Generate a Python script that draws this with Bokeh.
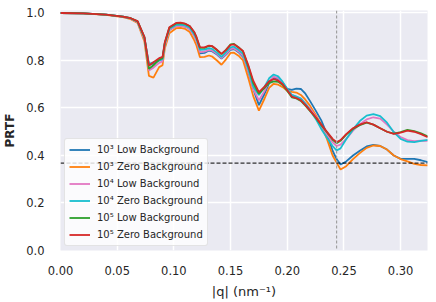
from bokeh.plotting import figure
from bokeh.models import Span, FixedTicker, PrintfTickFormatter, Legend, LegendItem
from bokeh.embed import file_html
from bokeh.resources import INLINE

q = [0.000, 0.020, 0.040, 0.055, 0.062, 0.068, 0.074, 0.078, 0.082, 0.087, 0.090, 0.092, 0.096,
     0.102, 0.106, 0.110, 0.114, 0.118, 0.120, 0.123, 0.127, 0.131, 0.134, 0.138, 0.142, 0.146,
     0.150, 0.153, 0.157, 0.161, 0.166, 0.170, 0.175, 0.180, 0.184, 0.188, 0.192, 0.196, 0.200,
     0.204, 0.208, 0.212, 0.216, 0.220, 0.225, 0.230, 0.235, 0.240, 0.2435, 0.247, 0.252, 0.258,
     0.264, 0.270, 0.276, 0.282, 0.288, 0.294, 0.300, 0.306, 0.312, 0.318, 0.324]

low_1e3 = [1.000, 0.998, 0.993, 0.985, 0.977, 0.963, 0.895, 0.780, 0.788, 0.800, 0.806, 0.870, 0.928,
           0.945, 0.946, 0.943, 0.933, 0.905, 0.885, 0.830, 0.832, 0.842, 0.838, 0.825, 0.808, 0.825,
           0.845, 0.848, 0.835, 0.815, 0.745, 0.680, 0.612, 0.660, 0.705, 0.728, 0.722, 0.705, 0.680,
           0.676, 0.682, 0.680, 0.660, 0.630, 0.590, 0.548, 0.490, 0.420, 0.385, 0.362, 0.375, 0.400,
           0.420, 0.438, 0.445, 0.440, 0.425, 0.400, 0.386, 0.386, 0.386, 0.380, 0.372]

zero_1e3 = [1.000, 0.998, 0.992, 0.983, 0.974, 0.958, 0.880, 0.735, 0.728, 0.772, 0.780, 0.850, 0.915,
            0.936, 0.937, 0.933, 0.920, 0.885, 0.862, 0.814, 0.815, 0.821, 0.816, 0.800, 0.782, 0.805,
            0.832, 0.833, 0.820, 0.800, 0.720, 0.650, 0.589, 0.640, 0.685, 0.702, 0.698, 0.688, 0.672,
            0.668, 0.665, 0.655, 0.635, 0.610, 0.572, 0.530, 0.470, 0.400, 0.370, 0.341, 0.355, 0.385,
            0.410, 0.432, 0.442, 0.440, 0.425, 0.400, 0.385, 0.375, 0.365, 0.360, 0.358]

low_1e4 = [1.000, 0.998, 0.993, 0.984, 0.976, 0.961, 0.890, 0.758, 0.770, 0.790, 0.796, 0.862, 0.928,
           0.945, 0.946, 0.943, 0.932, 0.903, 0.882, 0.835, 0.837, 0.845, 0.841, 0.828, 0.810, 0.828,
           0.848, 0.851, 0.838, 0.820, 0.748, 0.680, 0.632, 0.672, 0.712, 0.732, 0.726, 0.705, 0.677,
           0.655, 0.648, 0.640, 0.620, 0.598, 0.565, 0.525, 0.488, 0.455, 0.440, 0.446, 0.470, 0.505,
           0.532, 0.552, 0.561, 0.555, 0.530, 0.500, 0.478, 0.465, 0.460, 0.462, 0.462]

zero_1e4 = [1.000, 0.998, 0.993, 0.985, 0.977, 0.963, 0.895, 0.786, 0.792, 0.800, 0.806, 0.872, 0.934,
            0.950, 0.951, 0.948, 0.938, 0.910, 0.890, 0.845, 0.846, 0.852, 0.848, 0.833, 0.815, 0.835,
            0.855, 0.858, 0.845, 0.828, 0.758, 0.690, 0.655, 0.690, 0.725, 0.741, 0.733, 0.710, 0.680,
            0.655, 0.648, 0.640, 0.618, 0.592, 0.555, 0.512, 0.475, 0.440, 0.421, 0.430, 0.468, 0.510,
            0.545, 0.568, 0.574, 0.566, 0.538, 0.498, 0.470, 0.458, 0.456, 0.462, 0.466]

low_1e5 = [1.000, 0.998, 0.993, 0.985, 0.978, 0.965, 0.898, 0.765, 0.780, 0.804, 0.810, 0.874, 0.938,
           0.956, 0.957, 0.954, 0.944, 0.918, 0.896, 0.853, 0.853, 0.862, 0.859, 0.844, 0.827, 0.845,
           0.868, 0.870, 0.856, 0.838, 0.770, 0.705, 0.660, 0.685, 0.705, 0.712, 0.710, 0.697, 0.672,
           0.645, 0.640, 0.630, 0.610, 0.588, 0.560, 0.528, 0.498, 0.466, 0.452, 0.462, 0.488, 0.512,
           0.528, 0.538, 0.530, 0.515, 0.500, 0.492, 0.498, 0.508, 0.503, 0.493, 0.480]

zero_1e5 = [1.000, 0.998, 0.993, 0.985, 0.978, 0.966, 0.900, 0.779, 0.793, 0.810, 0.815, 0.877, 0.940,
            0.958, 0.959, 0.955, 0.945, 0.920, 0.898, 0.856, 0.855, 0.863, 0.860, 0.845, 0.828, 0.845,
            0.866, 0.868, 0.855, 0.840, 0.775, 0.715, 0.667, 0.690, 0.712, 0.722, 0.715, 0.700, 0.675,
            0.648, 0.642, 0.632, 0.612, 0.590, 0.562, 0.530, 0.500, 0.470, 0.456, 0.465, 0.490, 0.515,
            0.530, 0.540, 0.530, 0.515, 0.500, 0.491, 0.496, 0.505, 0.500, 0.490, 0.477]

labels = ["10³ Low Background", "10³ Zero Background", "10⁴ Low Background",
          "10⁴ Zero Background", "10⁵ Low Background", "10⁵ Zero Background"]
series = [low_1e3, zero_1e3, low_1e4, zero_1e4, low_1e5, zero_1e5]
colors = ["#1f77b4", "#ff7f0e", "#e377c2", "#17becf", "#2ca02c", "#d62728"]

threshold = 0.368
q_cut = 0.2435
x_ticks = [0.0, 0.05, 0.10, 0.15, 0.20, 0.25, 0.30]
y_ticks = [0.0, 0.2, 0.4, 0.6, 0.8, 1.0]

p = figure(width=436, height=302, x_range=(0, 0.3237), y_range=(0, 1.0105),
           output_backend="svg", toolbar_location=None,
           min_border_left=56, min_border_right=9, min_border_top=10, min_border_bottom=52)
p.background_fill_color = "#EAEAF2"
p.border_fill_color = "white"
p.outline_line_color = None

for ax in (p.xaxis, p.yaxis):
    ax.axis_line_color = None
    ax.major_tick_line_color = None
    ax.minor_tick_line_color = None
    ax.major_label_text_font = "DejaVu Sans"
    ax.major_label_text_font_size = "11.5px"
    ax.major_label_text_color = "#262626"

p.xaxis.major_label_standoff = 9
p.yaxis.major_label_standoff = 10
p.xaxis.ticker = FixedTicker(ticks=x_ticks)
p.yaxis.ticker = FixedTicker(ticks=y_ticks)
p.xaxis.formatter = PrintfTickFormatter(format="%.2f")
p.yaxis.formatter = PrintfTickFormatter(format="%.1f")

p.xaxis.axis_label = "|q| (nm⁻¹)"
p.xaxis.axis_label_text_font = "DejaVu Sans"
p.xaxis.axis_label_text_font_style = "normal"
p.xaxis.axis_label_text_font_size = "13px"
p.xaxis.axis_label_text_color = "#262626"
p.xaxis.axis_label_standoff = 6

p.yaxis.axis_label = "PRTF"
p.yaxis.axis_label_text_font = "DejaVu Sans"
p.yaxis.axis_label_text_font_style = "bold"
p.yaxis.axis_label_text_font_size = "12px"
p.yaxis.axis_label_text_color = "#262626"
p.yaxis.axis_label_standoff = 6

p.grid.grid_line_color = "white"
p.grid.grid_line_width = 1.5

p.add_layout(Span(location=q_cut, dimension="height", line_color="#a0a0a0",
                  line_dash="3 2", line_width=1.2))
p.add_layout(Span(location=threshold, dimension="width", line_color="black",
                  line_dash="4 2", line_width=1.0))

items = []
for lab, ys, c in zip(labels, series, colors):
    r = p.line(q, ys, line_color=c, line_width=1.8)
    items.append(LegendItem(label=lab, renderers=[r]))

legend = Legend(items=items, location="bottom_left", margin=4)
legend.label_text_font = "DejaVu Sans"
legend.label_text_font_size = "10px"
legend.label_text_color = "#262626"
legend.label_height = 13
legend.glyph_height = 13
legend.glyph_width = 21
legend.label_standoff = 7
legend.spacing = 4
legend.padding = 4
legend.background_fill_color = "white"
legend.background_fill_alpha = 0.8
legend.border_line_color = "#cccccc"
legend.border_line_width = 1
legend.border_radius = 3
p.add_layout(legend, "center")

open("out.html", "w").write(file_html(p, INLINE))
